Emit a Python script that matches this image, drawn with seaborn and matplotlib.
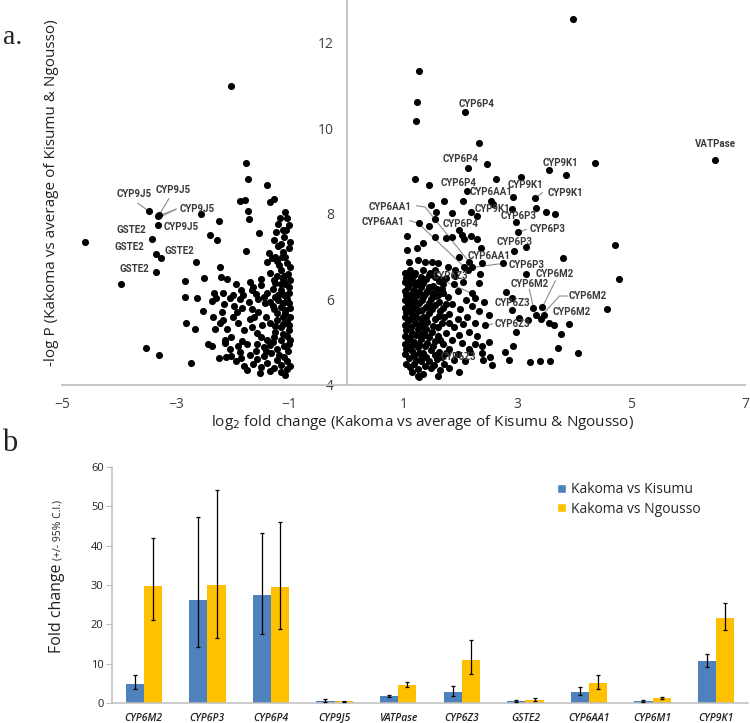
import numpy as np
import pandas as pd
import matplotlib
matplotlib.use('Agg')
import matplotlib.pyplot as plt
from matplotlib.patches import Patch
import seaborn as sns

# ---------------- panel a: volcano plot (log2 fold change, -log P) ----------------
left_pts = [
    (-2.03, 10.98), (-4.59, 7.34), (-3.97, 6.37), (-3.47, 8.06), (-3.32, 7.95), (-3.29, 7.98),
    (-3.31, 7.74), (-3.42, 7.41), (-3.34, 7.06), (-3.26, 6.98), (-3.34, 6.63),
    (-2.56, 7.99), (-2.24, 7.84), (-2.40, 7.50), (-2.28, 7.38), (-2.65, 6.88), (-2.22, 6.75),
    (-2.20, 6.53), (-2.10, 6.47), (-2.50, 6.49), (-2.84, 6.43),
    (-1.76, 9.19), (-1.74, 8.82), (-1.87, 8.31), (-1.79, 8.32), (-1.39, 8.67), (-1.34, 8.27),
    (-1.27, 8.35), (-1.73, 8.06), (-1.71, 7.88), (-1.54, 7.55), (-1.77, 7.13),
    (-1.08, 8.05), (-1.17, 7.90), (-1.20, 7.77), (-1.06, 7.63), (-1.24, 7.57), (-1.28, 7.39),
    (-1.21, 7.26), (-1.37, 7.08), (-1.31, 6.98), (-1.25, 7.00), (-1.39, 6.88), (-1.14, 6.99),
    (-2.84, 6.05), (-2.62, 6.03), (-2.33, 6.14), (-2.37, 5.96), (-2.17, 6.16), (-2.16, 5.89),
    (-2.29, 6.03), (-2.04, 6.03), (-1.85, 6.22), (-1.82, 6.10), (-1.87, 6.01),
    (-1.66, 6.22), (-1.50, 6.34), (-1.51, 6.47), (-1.64, 6.30), (-1.35, 6.61), (-1.16, 6.69),
    (-1.25, 6.38), (-1.11, 6.47), (-1.15, 6.22),
    (-2.53, 5.73), (-2.34, 5.58), (-2.19, 5.71), (-2.18, 5.53), (-1.93, 5.71), (-1.83, 5.79),
    (-1.66, 5.78), (-1.62, 5.60),
    (-1.44, 5.91), (-1.34, 5.95), (-1.28, 5.77), (-1.41, 5.58), (-1.22, 5.52), (-1.16, 5.36),
    (-1.04, 5.48), (-1.09, 5.68), (-1.01, 5.29), (-1.16, 5.82),
    (-2.82, 5.46), (-2.66, 5.30), (-2.31, 5.31), (-2.22, 5.44), (-2.10, 5.32), (-2.13, 5.05),
    (-2.03, 5.13),
    (-1.81, 5.29), (-1.66, 5.36), (-1.57, 5.21), (-1.84, 5.04), (-1.75, 4.97), (-1.57, 4.97),
    (-1.39, 5.05), (-1.28, 5.13), (-1.51, 5.13), (-1.34, 4.94), (-1.16, 5.05), (-1.10, 4.90),
    (-1.02, 4.97),
    (-2.44, 4.97), (-2.37, 4.90), (-3.52, 4.86), (-3.29, 4.70), (-2.73, 4.52), (-2.14, 4.99),
    (-2.12, 4.65), (-2.03, 4.68), (-1.75, 4.35), (-1.52, 4.29), (-1.09, 4.23),
    (-1.95, 4.55), (-1.85, 4.62), (-1.80, 4.45), (-1.70, 4.70), (-1.65, 4.50), (-1.58, 4.60),
    (-1.50, 4.42), (-1.45, 4.68), (-1.40, 4.52), (-1.32, 4.75), (-1.28, 4.40), (-1.22, 4.58),
    (-1.15, 4.47), (-1.10, 4.65), (-1.05, 4.38), (-1.03, 4.80), (-1.60, 4.80), (-1.88, 4.78),
    (-2.25, 4.62), (-1.35, 4.33),
    (-1.05, 7.90), (-1.10, 7.45), (-1.02, 7.20), (-1.12, 7.10), (-1.05, 6.85), (-1.18, 6.80),
    (-1.03, 6.60), (-1.08, 6.35), (-1.02, 6.15), (-1.20, 6.10), (-1.05, 6.00), (-1.12, 5.92),
    (-1.00, 5.80), (-1.25, 6.05), (-1.30, 6.25), (-1.40, 6.15), (-1.45, 6.05), (-1.55, 6.00),
    (-1.60, 6.12), (-1.72, 5.95), (-1.70, 6.40), (-1.95, 6.35), (-2.00, 6.10), (-1.98, 5.85),
    (-1.55, 5.70), (-1.35, 5.45), (-1.48, 5.40), (-1.25, 5.25), (-1.05, 5.15), (-1.12, 5.60),
    (-1.00, 5.60), (-1.70, 5.55), (-1.90, 5.45), (-2.00, 5.60), (-1.45, 4.88), (-1.22, 4.85),
    (-1.90, 4.90), (-2.05, 4.85),
    (-1.02, 7.75), (-1.12, 7.62), (-1.00, 7.35), (-1.15, 7.30), (-1.08, 7.00), (-1.22, 6.90),
    (-1.00, 6.75), (-1.10, 6.55), (-1.22, 6.55), (-1.00, 6.45), (-1.15, 6.35), (-1.02, 6.30),
    (-1.28, 6.45), (-1.10, 6.10), (-1.20, 5.98), (-1.02, 5.92), (-1.30, 5.85), (-1.08, 5.75),
    (-1.22, 5.68), (-1.02, 5.40), (-1.12, 5.42), (-1.25, 5.38), (-1.00, 5.05), (-1.12, 5.20),
    (-1.30, 5.00), (-1.05, 4.55), (-1.18, 4.70), (-1.00, 4.45), (-1.15, 4.30), (-1.42, 4.80),
]

right_pts = [
    (3.97, 12.55), (1.27, 11.33), (1.24, 10.61), (1.22, 10.18), (2.08, 10.38), (2.32, 9.65),
    (2.13, 9.07), (2.46, 9.16), (4.36, 9.19), (6.47, 9.26), (3.56, 9.02), (3.85, 8.92),
    (1.21, 8.82), (1.45, 8.68), (2.62, 8.82), (3.07, 8.87), (2.12, 8.54), (2.92, 8.40),
    (3.31, 8.36),
    (1.48, 8.21), (1.72, 8.30), (2.04, 8.29), (1.57, 8.04), (1.86, 8.01), (2.19, 8.05),
    (2.53, 8.30), (2.57, 8.23), (2.30, 7.95), (2.90, 8.12), (3.32, 8.13), (3.51, 8.04),
    (3.67, 7.99),
    (2.98, 7.81), (3.02, 7.57), (3.16, 7.22), (1.27, 7.78), (1.45, 7.72), (1.55, 7.88),
    (1.56, 7.45), (1.74, 7.43), (1.85, 7.47), (1.98, 7.63), (2.03, 7.51), (2.06, 7.41),
    (2.19, 7.49), (2.30, 7.41),
    (4.72, 7.27), (4.79, 6.47), (4.58, 5.78), (3.81, 6.98), (2.95, 7.14), (2.75, 6.85),
    (2.37, 7.20),
    (1.98, 6.99), (2.15, 6.88), (2.20, 6.77), (2.06, 6.77), (2.13, 6.69), (2.35, 6.60),
    (2.32, 6.39),
    (3.16, 6.60), (2.80, 6.18), (2.91, 6.04), (3.27, 5.81), (3.32, 5.64), (3.44, 5.82),
    (3.41, 5.54), (3.47, 5.64), (2.91, 5.75), (3.03, 5.56), (3.18, 5.52), (3.56, 5.44),
    (3.65, 5.40), (3.90, 5.43), (3.76, 5.19), (2.97, 5.25), (2.92, 4.92), (3.72, 4.86),
    (4.06, 4.74),
    (2.44, 5.40), (2.50, 5.64), (2.32, 5.74), (2.41, 5.95), (2.20, 6.14), (2.26, 6.03),
    (2.50, 5.01), (2.38, 4.90), (2.26, 4.97), (2.17, 4.78), (2.38, 4.74),
    (1.07, 7.49), (1.35, 7.31), (1.23, 7.20),
    (1.07, 7.16), (1.09, 6.88), (1.26, 6.92), (1.38, 6.88), (1.50, 6.88), (1.61, 6.85),
    (1.79, 6.77), (2.38, 6.85), (1.20, 6.61), (1.11, 6.69), (1.35, 6.69), (1.47, 6.61),
    (1.56, 6.69), (1.91, 6.69),
    (3.22, 4.53), (3.39, 4.57), (3.58, 4.57), (2.78, 4.78), (2.86, 4.58), (2.39, 4.58),
    (2.52, 4.66), (2.56, 4.47), (1.97, 4.31), (1.28, 4.19), (1.54, 4.47),
    (1.05, 6.50), (1.15, 6.45), (1.25, 6.40), (1.40, 6.48), (1.62, 6.42), (1.75, 6.50),
    (1.88, 6.35), (1.08, 6.30), (1.18, 6.22), (1.30, 6.28), (1.42, 6.20), (1.52, 6.32),
    (1.68, 6.25), (1.95, 6.20), (2.05, 6.40), (1.05, 6.10), (1.12, 6.02), (1.22, 6.08),
    (1.35, 6.05), (1.48, 6.00), (1.60, 6.10), (1.78, 6.05), (2.10, 5.98), (1.08, 5.90),
    (1.18, 5.85), (1.28, 5.92), (1.40, 5.82), (1.55, 5.88), (1.70, 5.80), (1.85, 5.90),
    (2.00, 5.78), (1.05, 5.70), (1.15, 5.65), (1.25, 5.72), (1.35, 5.60), (1.45, 5.68),
    (1.62, 5.62), (1.80, 5.65), (1.95, 5.55), (2.12, 5.60), (1.08, 5.50), (1.20, 5.45),
    (1.32, 5.40), (1.42, 5.48), (1.52, 5.38), (1.68, 5.45), (1.88, 5.35), (2.05, 5.42),
    (1.05, 5.28), (1.15, 5.22), (1.25, 5.30), (1.38, 5.18), (1.50, 5.25), (1.60, 5.15),
    (1.75, 5.22), (1.98, 5.18), (2.15, 5.25), (1.08, 5.05), (1.18, 5.00), (1.30, 5.08),
    (1.42, 4.98), (1.55, 5.02), (1.70, 4.95), (1.85, 5.05), (2.02, 4.98), (1.05, 4.85),
    (1.15, 4.80), (1.25, 4.88), (1.35, 4.75), (1.48, 4.82), (1.62, 4.78), (1.80, 4.85),
    (1.95, 4.72), (1.10, 4.62), (1.22, 4.58), (1.32, 4.65), (1.45, 4.55), (1.58, 4.60),
    (1.72, 4.50), (1.88, 4.58), (2.08, 4.55), (1.12, 4.42), (1.25, 4.38), (1.38, 4.45),
    (1.65, 4.35), (1.80, 4.40), (1.35, 4.25), (1.60, 4.20), (1.10, 5.95), (1.30, 5.55),
    (1.20, 4.95), (1.40, 5.30), (1.50, 6.15), (1.12, 6.38), (1.70, 6.35), (1.90, 6.55),
    (2.20, 5.85), (2.25, 5.45), (2.30, 5.15), (2.15, 4.85),
    (1.02, 6.62), (1.10, 6.55), (1.18, 6.58), (1.30, 6.52), (1.45, 6.58), (1.55, 6.52),
    (1.03, 6.40), (1.20, 6.33), (1.35, 6.38), (1.45, 6.30), (1.58, 6.25), (1.65, 6.48),
    (1.02, 6.20), (1.15, 6.15), (1.28, 6.18), (1.38, 6.12), (1.55, 6.08), (1.70, 6.15),
    (1.02, 5.98), (1.20, 5.95), (1.32, 5.98), (1.45, 5.92), (1.62, 5.95), (1.75, 5.90),
    (1.03, 5.80), (1.13, 5.75), (1.22, 5.80), (1.33, 5.75), (1.50, 5.78), (1.65, 5.72),
    (1.02, 5.58), (1.12, 5.55), (1.22, 5.60), (1.40, 5.58), (1.55, 5.55), (1.72, 5.60),
    (1.03, 5.40), (1.14, 5.35), (1.25, 5.40), (1.38, 5.30), (1.60, 5.35), (1.80, 5.45),
    (1.02, 5.15), (1.12, 5.12), (1.22, 5.18), (1.32, 5.20), (1.45, 5.12), (1.65, 5.05),
    (1.03, 4.95), (1.13, 4.92), (1.28, 4.97), (1.38, 4.90), (1.52, 4.92), (1.75, 4.75),
    (1.03, 4.72), (1.18, 4.70), (1.28, 4.75), (1.40, 4.65), (1.55, 4.70), (1.68, 4.65),
    (1.05, 4.50), (1.18, 4.50), (1.30, 4.55), (1.48, 4.40), (1.15, 4.30), (1.25, 4.22),
]

# gene labels: text, x, y, horizontal alignment
gene_labels = [
    ('CYP9J5', -3.73, 8.47, 'center'), ('CYP9J5', -3.05, 8.56, 'center'),
    ('CYP9J5', -2.63, 8.12, 'center'), ('CYP9J5', -2.90, 7.70, 'center'),
    ('GSTE2', -3.78, 7.63, 'center'), ('GSTE2', -3.81, 7.22, 'center'),
    ('GSTE2', -2.93, 7.13, 'center'), ('GSTE2', -3.73, 6.71, 'center'),
    ('CYP6P4', 2.28, 10.57, 'center'), ('VATPase', 6.48, 9.64, 'center'),
    ('CYP6P4', 2.01, 9.28, 'center'), ('CYP9K1', 3.76, 9.19, 'center'),
    ('CYP6P4', 1.96, 8.73, 'center'), ('CYP6AA1', 2.53, 8.52, 'center'),
    ('CYP9K1', 3.15, 8.68, 'center'), ('CYP9K1', 3.84, 8.48, 'center'),
    ('CYP6AA1', 1.14, 8.17, 'right'), ('CYP6AA1', 1.02, 7.80, 'right'),
    ('CYP9K1', 2.56, 8.11, 'center'), ('CYP6P3', 3.03, 7.95, 'center'),
    ('CYP6P4', 2.01, 7.76, 'center'), ('CYP6P3', 3.53, 7.64, 'center'),
    ('CYP6P3', 2.95, 7.34, 'center'), ('CYP6AA1', 2.51, 7.02, 'center'),
    ('CYP6P3', 3.16, 6.81, 'center'), ('CYP6M2', 3.65, 6.60, 'center'),
    ('CYP6M2', 3.21, 6.36, 'center'), ('CYP6Z3', 1.82, 6.55, 'center'),
    ('CYP6Z3', 2.91, 5.91, 'center'), ('CYP6M2', 4.24, 6.08, 'center'),
    ('CYP6M2', 3.96, 5.71, 'center'), ('CYP6Z3', 2.91, 5.43, 'center'),
    ('CYP6Z3', 1.96, 4.66, 'center'),
]

# leader lines from labels to their points
leaders = [
    [(-3.67, 8.25), (-3.47, 8.06)],
    [(-3.12, 8.36), (-3.31, 7.94)],
    [(-2.99, 8.12), (-3.25, 7.94)],
    [(-3.00, 8.10), (-3.28, 7.97)],
    [(3.44, 8.50), (3.31, 8.36)],
    [(1.23, 8.19), (1.38, 8.16), (2.15, 6.88)],
    [(1.11, 7.84), (1.26, 7.78), (2.06, 6.77)],
    [(3.16, 7.64), (3.03, 7.57)],
    [(2.79, 6.85), (2.23, 6.75)],
    [(3.67, 6.44), (3.44, 5.82)],
    [(3.21, 6.24), (3.28, 5.83)],
    [(1.73, 6.42), (2.20, 6.14)],
    [(3.88, 6.08), (3.74, 6.08), (3.41, 5.60)],
    [(2.57, 5.43), (2.41, 5.38)],
    [(1.85, 4.76), (1.58, 5.29)],
]

# ---------------- panel b: fold change bars with 95% C.I. ----------------
genes = ['CYP6M2', 'CYP6P3', 'CYP6P4', 'CYP9J5', 'VATPase',
         'CYP6Z3', 'GSTE2', 'CYP6AA1', 'CYP6M1', 'CYP9K1']
kisumu_fc = [4.9, 26.1, 27.4, 0.6, 1.8, 2.8, 0.45, 2.9, 0.5, 10.7]
kisumu_lo = [3.6, 14.3, 17.6, 0.3, 1.5, 1.9, 0.3, 2.0, 0.3, 9.2]
kisumu_hi = [7.1, 47.3, 43.1, 0.9, 2.1, 4.3, 0.65, 4.1, 0.7, 12.5]
ngousso_fc = [29.8, 29.9, 29.4, 0.4, 4.6, 10.9, 0.85, 5.1, 1.2, 21.6]
ngousso_lo = [21.0, 16.4, 18.9, 0.2, 4.0, 7.5, 0.5, 3.6, 1.0, 18.5]
ngousso_hi = [42.0, 54.1, 46.0, 0.6, 5.3, 16.1, 1.2, 7.2, 1.5, 25.5]
comparisons = ['Kakoma vs Kisumu', 'Kakoma vs Ngousso']

blue = '#4F81BD'
gold = '#FFC000'
axis_grey = '#BFBFBF'
text_grey = '#404040'

sns.set_style('white')
plt.rcParams['font.family'] = ['Open Sans', 'DejaVu Sans']

W, H = 750, 723
fig = plt.figure(figsize=(W / 100, H / 100), dpi=100)

# ---- panel a ----
axa = fig.add_axes([62 / W, 1 - 385 / H, 683 / W, 385 / H])
lx, ly = zip(*left_pts)
rx, ry = zip(*right_pts)
volcano = pd.DataFrame({'log2fc': list(lx) + list(rx), 'logp': list(ly) + list(ry)})
sns.scatterplot(data=volcano, x='log2fc', y='logp', color='black', s=26,
                linewidth=0, ax=axa, zorder=3)
axa.set_xlim(-5, 7)
axa.set_ylim(4, 13)
axa.set_xticks(range(-5, 8, 2))
axa.set_yticks(range(4, 13, 2))
axa.spines['left'].set_position(('data', 0))
for s in ['top', 'right']:
    axa.spines[s].set_visible(False)
for s in ['left', 'bottom']:
    axa.spines[s].set_color(axis_grey)
    axa.spines[s].set_linewidth(1.3)
axa.tick_params(length=0, labelsize=10, labelcolor=text_grey, pad=9)
axa.set_xlabel('')
axa.set_ylabel('')

for line in leaders:
    xs, ys = zip(*line)
    axa.plot(xs, ys, color='#8C8C8C', lw=0.8, zorder=2)
for txt, x, y, ha in gene_labels:
    axa.text(x, y, txt, ha=ha, va='center', fontsize=7, fontweight='bold',
             family=['Roboto', 'DejaVu Sans'], color='#3A3A3A', zorder=4)

fig.text(52 / W, 1 - 193 / H, '-log P (Kakoma vs average of Kisumu & Ngousso)',
         rotation=90, ha='center', va='center', fontsize=11, color='#222222')
fig.text(422 / W, 1 - 423 / H,
         r'log$_2$ fold change (Kakoma vs average of Kisumu & Ngousso)',
         ha='center', va='center', fontsize=11, color='#222222')
fig.text(3 / W, 1 - 38 / H, 'a.', ha='left', va='center', fontsize=20,
         family=['Liberation Serif', 'DejaVu Serif'], color='#222222')
fig.text(2 / W, 1 - 443 / H, 'b', ha='left', va='center', fontsize=22,
         family=['Liberation Serif', 'DejaVu Serif'], color='#222222')

# ---- panel b ----
axb = fig.add_axes([112 / W, 1 - 703 / H, 636 / W, 236 / H])
bars = pd.DataFrame({
    'gene': genes * 2,
    'fc': kisumu_fc + ngousso_fc,
    'comparison': [comparisons[0]] * len(genes) + [comparisons[1]] * len(genes),
})
sns.barplot(data=bars, x='gene', y='fc', hue='comparison', palette=[blue, gold],
            width=0.575, errorbar=None, saturation=1, linewidth=0, legend=False, ax=axb)

for cont, fc, lo, hi in zip(axb.containers, [kisumu_fc, ngousso_fc],
                            [kisumu_lo, ngousso_lo], [kisumu_hi, ngousso_hi]):
    xs = [b.get_x() + b.get_width() / 2 for b in cont]
    fc = np.array(fc)
    yerr = [fc - np.array(lo), np.array(hi) - fc]
    axb.errorbar(xs, fc, yerr=yerr, fmt='none', ecolor='black', elinewidth=0.9,
                 capsize=1.6, capthick=0.9, zorder=4)

axb.set_xlim(-0.5, 9.5)
axb.set_ylim(0, 60)
axb.set_yticks(range(0, 61, 10))
axb.set_xticks(range(len(genes)))
axb.set_xticklabels(genes, style='italic', fontweight='semibold', fontsize=7.5,
                    color='#222222')
axb.set_xticks(np.arange(0.5, 10, 1), minor=True)
axb.tick_params(axis='x', which='major', length=0, pad=7)
axb.tick_params(axis='x', which='minor', length=4, color=axis_grey, direction='out')
axb.tick_params(axis='y', length=4, color=axis_grey, labelsize=8, labelcolor='#222222',
                pad=2, direction='out', left=True)
for s in ['top', 'right']:
    axb.spines[s].set_visible(False)
for s in ['left', 'bottom']:
    axb.spines[s].set_color(axis_grey)
    axb.spines[s].set_linewidth(1.1)
axb.set_xlabel('')
axb.set_ylabel('')

handles = [Patch(facecolor=blue, label=comparisons[0]),
           Patch(facecolor=gold, label=comparisons[1])]
axb.legend(handles=handles, loc='upper left', bbox_to_anchor=(0.70, 0.935), frameon=False,
           fontsize=10, handlelength=0.6, handleheight=0.6, handletextpad=0.4,
           labelspacing=0.3, borderpad=0, borderaxespad=0)

t1 = fig.text(61 / W, 1 - 653 / H, 'Fold change', rotation=90, rotation_mode='anchor',
              ha='left', va='baseline', fontsize=11.5, color='#222222')
fig.canvas.draw()
bb = t1.get_window_extent(fig.canvas.get_renderer())
fig.text(61 / W, (bb.y1 + 3) / H, '(+/- 95% C.I.)', rotation=90, rotation_mode='anchor',
         ha='left', va='baseline', fontsize=7.5, color='#222222')

fig.savefig('out.png', dpi=100)
